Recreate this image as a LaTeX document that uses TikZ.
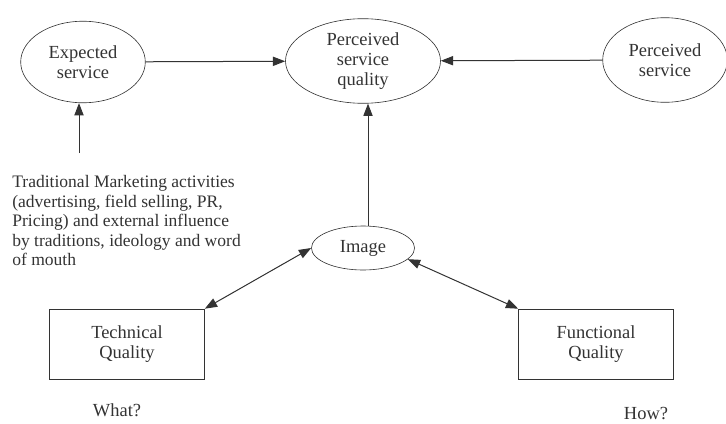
\documentclass[tikz,border=0pt]{standalone}
\usepackage{fontspec}
\setmainfont{Liberation Serif}
\usepackage{tikz}
\usetikzlibrary{shapes.geometric,arrows.meta}

\definecolor{ink}{HTML}{333333}

\tikzset{
  oval/.style={draw=ink, ellipse, inner sep=0pt, align=center, text=ink,
               font=\fontsize{12}{13}\selectfont},
  qbox/.style={draw=ink, rectangle, inner sep=0pt, align=center, text=ink,
               minimum width=100.75pt, minimum height=45.5pt,
               font=\fontsize{12}{13}\selectfont},
  arr/.style={draw=ink, line width=0.65pt, -{Triangle[length=8pt,width=6pt]}},
  darr/.style={draw=ink, line width=0.65pt, {Triangle[length=8pt,width=6pt]}-{Triangle[length=8pt,width=6pt]}}
}

\begin{document}
\begin{tikzpicture}[x=0.65pt, y=-0.65pt]
  \useasboundingbox (0,0) rectangle (726,423);
  % the three ovals at the top
  \node[oval, minimum width=81pt, minimum height=53pt] (exp) at (83,62) {Expected\\service};
  \node[oval, minimum width=100.75pt, minimum height=55pt] (psq) at (363,61) {Perceived\\service\\quality};
  \node[oval, minimum width=81pt, minimum height=55pt] (per) at (665,60) {Perceived\\service};
  \draw[arr] (exp) -- (psq);
  \draw[arr] (per) -- (psq);

  % marketing activities
  \node[anchor=north west, align=left, inner sep=0pt, text=ink,
        font=\fontsize{11.4}{12.7}\selectfont] (mkt) at (12,175)
        {Traditional Marketing activities\\(advertising, field selling, PR,\\Pricing) and external influence\\by traditions, ideology and word\\of mouth};
  \coordinate (mtop) at (79,153);
  \draw[arr] (mtop) -- (mtop |- exp.south);

  % image and the two qualities
  \node[oval, minimum width=67pt, minimum height=28.6pt] (img) at (363,248) {Image};
  \draw[arr] (img.north -| 368,0) -- (psq.south -| 368,0);
  \node[qbox] (tech) at (127,344) {Technical\\Quality};
  \node[qbox] (func) at (596,344) {Functional\\Quality};
  \draw[darr] (tech.north east) -- (img.west);
  \draw[darr] (func.north west) -- (img.-14);

  \node[text=ink, font=\fontsize{12}{13}\selectfont] (what) at (117,410) {What?};
  \node[text=ink, font=\fontsize{12}{13}\selectfont] (how) at (646,414) {How?};
\end{tikzpicture}
\end{document}
